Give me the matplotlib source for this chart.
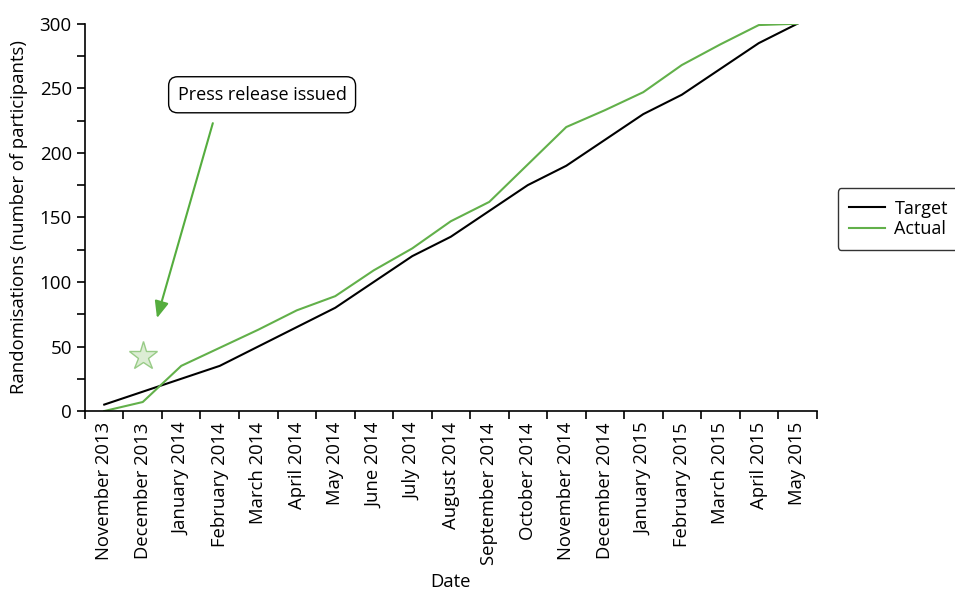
import matplotlib
matplotlib.use("Agg")
import matplotlib.pyplot as plt
from matplotlib.ticker import MultipleLocator, FixedLocator

plt.rcParams["font.family"] = ["Open Sans", "DejaVu Sans"]

months = ["November 2013", "December 2013", "January 2014", "February 2014",
          "March 2014", "April 2014", "May 2014", "June 2014", "July 2014",
          "August 2014", "September 2014", "October 2014", "November 2014",
          "December 2014", "January 2015", "February 2015", "March 2015",
          "April 2015", "May 2015"]
target = [5, 15, 25, 35, 50, 65, 80, 100, 120, 135, 155, 175, 190, 210, 230,
          245, 265, 285, 300]
actual = [0, 7, 35, 49, 63, 78, 89, 109, 126, 147, 162, 191, 220, 233, 247,
          268, 284, 299, 300]

# press release marker and annotation
press_month = 1
press_value = 43
note_text = "Press release issued"
note_pos = (4.1, 245)
arrow_tail = (2.82, 223)
arrow_head = (1.37, 72)

green = "#62b04a"

fig = plt.figure(figsize=(9.55, 5.94), dpi=100)
ax = fig.add_axes([0.089, 0.308, 0.766, 0.652])

x = list(range(len(months)))
ax.plot(x, target, color="black", lw=1.5, label="Target")
ax.plot(x, actual, color=green, lw=1.5, label="Actual")

ax.plot(press_month, press_value, marker="*", markersize=21,
        markerfacecolor="#d9ecd0", markeredgecolor="#8fc77c", alpha=0.9)

ax.text(note_pos[0], note_pos[1], note_text, ha="center", va="center",
        fontsize=13,
        bbox=dict(boxstyle="round,pad=0.5,rounding_size=0.5", fc="white",
                  ec="black", lw=1.0))
ax.annotate("", xy=arrow_head, xytext=arrow_tail,
            arrowprops=dict(arrowstyle="-|>,head_length=1.0,head_width=0.42",
                            color="#55ad3e", lw=1.5, shrinkA=0, shrinkB=0))

ax.set_xlim(-0.5, len(months) - 0.5)
ax.set_ylim(0, 300)
ax.yaxis.set_major_locator(MultipleLocator(50))
ax.yaxis.set_minor_locator(MultipleLocator(25))
ax.xaxis.set_major_locator(FixedLocator([i - 0.5 for i in range(len(months) + 1)]))
ax.xaxis.set_major_formatter(plt.NullFormatter())
ax.set_xticks(x, months, minor=True, rotation=90, fontsize=13.3)
ax.tick_params(axis="x", which="minor", length=0, pad=8)
ax.tick_params(axis="x", which="major", length=6, width=1.2)
ax.tick_params(axis="y", which="both", length=6, width=1.2, labelsize=13.5)

for side in ["top", "right"]:
    ax.spines[side].set_visible(False)
for side in ["left", "bottom"]:
    ax.spines[side].set_linewidth(1.2)

ax.set_ylabel("Randomisations (number of participants)", fontsize=13.3, labelpad=8)
ax.set_xlabel("Date", fontsize=13.3, labelpad=6)

leg = fig.legend(loc="upper left", bbox_to_anchor=(0.877, 0.6835),
                 borderaxespad=0, fontsize=13, frameon=True, fancybox=True,
                 handlelength=2.0, borderpad=0.65, labelspacing=0.12,
                 handletextpad=0.5)
leg.get_frame().set_edgecolor("black")
leg.get_frame().set_linewidth(1.0)

fig.savefig("out.png", dpi=100)
